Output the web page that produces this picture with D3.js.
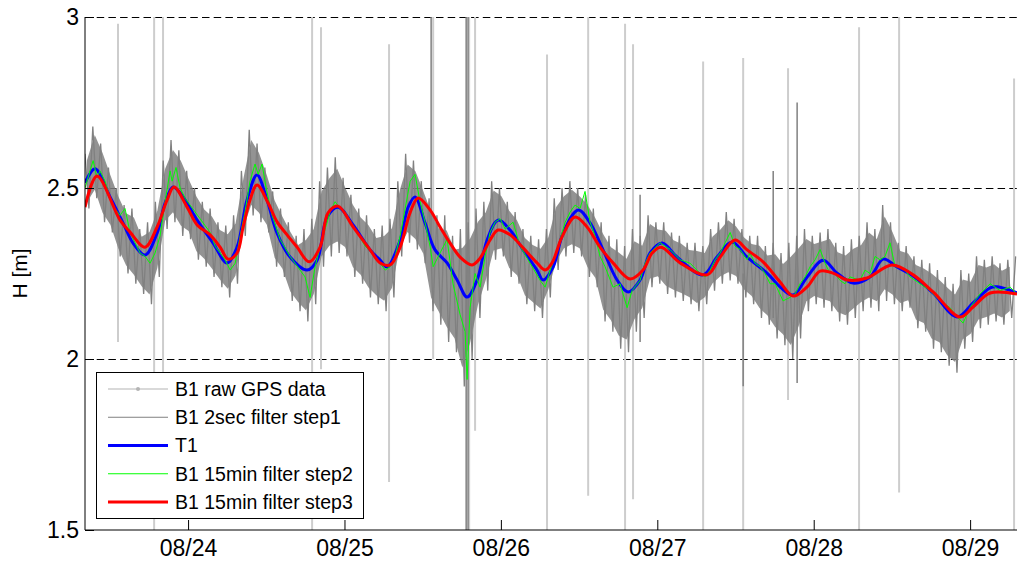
<!DOCTYPE html>
<html><head><meta charset="utf-8">
<script src="https://cdn.jsdelivr.net/npm/d3@7"></script>
<style>body{margin:0;background:#fff}svg{display:block}</style>
</head><body><svg id="c" width="1017" height="567"></svg>
<script>
// ---------- data ----------
const xTicks = [24, 25, 26, 27, 28, 29];
const xTickLabels = ["08/24", "08/25", "08/26", "08/27", "08/28", "08/29"];
const yTicks = [1.5, 2, 2.5, 3];
const yTickLabels = ["1.5", "2", "2.5", "3"];
const seriesNames = ["B1 raw GPS data", "B1 2sec filter step1", "T1", "B1 15min filter step2", "B1 15min filter step3"];

// raw GPS outliers: [day, top, bottom]
const rawSpikes = [
  [23.552, 2.98, 2.05], [23.783, 3.02, 1.48], [23.840, 3.02, 1.90], [24.793, 3.02, 1.48],
  [24.850, 2.97, 1.97], [25.285, 2.92, 1.64], [25.567, 3.02, 2.00], [25.797, 3.02, 1.48],
  [25.835, 3.02, 1.79], [26.295, 2.89, 1.48], [26.558, 3.02, 1.60], [26.794, 2.98, 1.48],
  [26.845, 2.92, 1.59], [27.293, 2.87, 1.48], [27.549, 2.88, 1.48], [27.836, 2.85, 1.88],
  [28.290, 2.97, 1.48], [28.546, 3.02, 1.61], [29.281, 2.82, 1.48]
];
// 2 sec filter step1 outliers: [day, top, bottom]
const step1Spikes = [
  [25.554, 3.02, 2.30], [25.778, 3.02, 1.48], [25.790, 3.02, 1.48],
  [26.890, 2.48, 2.05], [27.549, 2.25, 1.92], [27.741, 2.55, 2.12], [27.894, 2.75, 1.93]
];
// 2 sec filter step1 samples, start day + step
const step1Start = 23.341;
const step1Step = 0.025;
const step1Values = [
  2.60,2.44,2.68,2.47, 2.63,2.40,2.56,2.37, 2.50,2.30,2.45,2.25, 2.44,2.22,2.38,2.19,
  2.40,2.16,2.46,2.24, 2.58,2.38,2.64,2.40, 2.61,2.36,2.55,2.35, 2.50,2.29,2.46,2.27,
  2.44,2.24,2.40,2.21, 2.39,2.18,2.42,2.22, 2.55,2.36,2.67,2.42, 2.63,2.40,2.56,2.37,
  2.49,2.27,2.44,2.24, 2.40,2.17,2.36,2.14, 2.38,2.11,2.41,2.16, 2.52,2.27,2.56,2.30,
  2.59,2.31,2.53,2.30, 2.48,2.24,2.44,2.22, 2.42,2.18,2.38,2.16, 2.39,2.14,2.41,2.18,
  2.52,2.30,2.60,2.34, 2.58,2.32,2.52,2.28, 2.47,2.14,2.42,2.10, 2.42,2.05,2.36,2.02,
  2.38,1.92,2.40,2.00, 2.44,2.12,2.46,2.20, 2.52,2.29,2.50,2.30, 2.46,2.24,2.43,2.22,
  2.38,2.16,2.36,2.14, 2.35,2.12,2.38,2.18, 2.47,2.26,2.50,2.30, 2.52,2.31,2.50,2.30,
  2.48,2.24,2.44,2.21, 2.40,2.11,2.36,2.08, 2.35,2.03,2.33,2.02, 2.38,2.08,2.36,2.12,
  2.42,2.21,2.40,2.22, 2.40,2.19,2.37,2.18, 2.36,2.17,2.34,2.16, 2.34,2.14,2.33,2.16,
  2.38,2.20,2.40,2.22, 2.43,2.23,2.41,2.22, 2.38,2.18,2.36,2.16, 2.36,2.12,2.33,2.10,
  2.34,2.06,2.31,2.04, 2.34,2.00,2.36,2.06, 2.38,2.14,2.36,2.16, 2.37,2.15,2.38,2.14,
  2.34,2.11,2.33,2.10, 2.35,2.12,2.36,2.14, 2.40,2.15,2.38,2.14, 2.45,2.17,2.40,2.16,
  2.34,2.14,2.33,2.15, 2.30,2.09,2.29,2.08, 2.28,2.03,2.26,2.02, 2.24,1.98,2.22,1.96,
  2.26,2.03,2.25,2.05, 2.30,2.09,2.29,2.10, 2.30,2.11,2.28,2.10, 2.29,2.12,2.30
];
// T1: [day, H]
const t1Data = [
  [23.341,2.515],[23.405,2.556],[23.501,2.474],[23.584,2.398],[23.648,2.339],[23.725,2.304],
  [23.802,2.368],[23.853,2.456],[23.904,2.503],[23.968,2.474],[24.058,2.406],[24.160,2.339],
  [24.249,2.281],[24.313,2.327],[24.377,2.465],[24.441,2.538],[24.505,2.465],[24.569,2.368],
  [24.652,2.298],[24.761,2.260],[24.825,2.289],[24.889,2.415],[24.959,2.444],[25.055,2.392],
  [25.164,2.319],[25.228,2.289],[25.272,2.269],[25.356,2.348],[25.407,2.444],[25.451,2.474],
  [25.515,2.398],[25.579,2.319],[25.656,2.281],[25.720,2.231],[25.784,2.181],[25.848,2.231],
  [25.912,2.348],[25.982,2.406],[26.059,2.377],[26.142,2.319],[26.231,2.260],[26.270,2.231],
  [26.334,2.269],[26.398,2.368],[26.494,2.436],[26.570,2.398],[26.653,2.319],[26.743,2.231],
  [26.813,2.196],[26.890,2.231],[26.954,2.310],[27.031,2.339],[27.127,2.298],[27.293,2.246],
  [27.382,2.298],[27.478,2.342],[27.574,2.298],[27.702,2.251],[27.785,2.211],[27.868,2.187],
  [27.958,2.240],[28.060,2.289],[28.150,2.251],[28.252,2.222],[28.361,2.240],[28.444,2.292],
  [28.533,2.269],[28.636,2.243],[28.763,2.193],[28.917,2.123],[29.019,2.164],[29.128,2.208],
  [29.173,2.211],[29.300,2.193]
];
// 15 min filter step2: [day, H]
const step2Data = [
  [23.341,2.50],[23.373,2.55],[23.393,2.58],[23.418,2.53],[23.437,2.55],[23.469,2.52],[23.501,2.47],
  [23.533,2.44],[23.565,2.42],[23.597,2.44],[23.629,2.37],[23.661,2.34],[23.693,2.31],[23.725,2.30],
  [23.757,2.28],[23.789,2.31],[23.821,2.36],[23.853,2.46],[23.885,2.55],[23.898,2.52],[23.923,2.56],
  [23.949,2.50],[23.981,2.47],[24.013,2.45],[24.045,2.43],[24.077,2.41],[24.109,2.39],[24.141,2.37],
  [24.173,2.33],[24.205,2.31],[24.237,2.29],[24.269,2.26],[24.301,2.28],[24.333,2.36],[24.364,2.43],
  [24.396,2.52],[24.428,2.57],[24.448,2.54],[24.473,2.57],[24.499,2.50],[24.537,2.42],[24.588,2.35],
  [24.652,2.30],[24.716,2.26],[24.748,2.24],[24.780,2.18],[24.812,2.27],[24.857,2.35],[24.908,2.43],
  [24.940,2.46],[24.972,2.44],[25.004,2.43],[25.068,2.38],[25.132,2.33],[25.196,2.30],[25.228,2.28],
  [25.260,2.26],[25.292,2.27],[25.324,2.30],[25.356,2.36],[25.388,2.44],[25.420,2.52],[25.451,2.54],
  [25.483,2.46],[25.515,2.40],[25.547,2.33],[25.567,2.27],[25.611,2.31],[25.656,2.35],[25.694,2.22],
  [25.739,2.13],[25.771,2.08],[25.784,1.94],[25.803,2.15],[25.835,2.25],[25.867,2.21],[25.899,2.30],
  [25.931,2.37],[25.963,2.40],[25.995,2.41],[26.027,2.38],[26.078,2.40],[26.123,2.33],[26.187,2.28],
  [26.251,2.23],[26.283,2.21],[26.315,2.26],[26.347,2.30],[26.379,2.35],[26.411,2.40],[26.443,2.43],
  [26.474,2.45],[26.506,2.44],[26.538,2.49],[26.570,2.40],[26.602,2.36],[26.634,2.30],[26.666,2.27],
  [26.717,2.21],[26.762,2.22],[26.807,2.15],[26.839,2.20],[26.890,2.23],[26.922,2.28],[26.954,2.31],
  [27.018,2.34],[27.082,2.32],[27.146,2.29],[27.210,2.28],[27.274,2.25],[27.306,2.24],[27.338,2.26],
  [27.370,2.29],[27.402,2.31],[27.434,2.34],[27.466,2.37],[27.497,2.33],[27.529,2.32],[27.574,2.29],
  [27.593,2.31],[27.625,2.28],[27.657,2.27],[27.689,2.25],[27.721,2.22],[27.753,2.22],[27.804,2.17],
  [27.849,2.18],[27.881,2.19],[27.913,2.22],[27.945,2.24],[27.977,2.27],[28.009,2.29],[28.041,2.32],
  [28.073,2.28],[28.104,2.25],[28.136,2.25],[28.168,2.23],[28.200,2.22],[28.232,2.24],[28.296,2.23],
  [28.328,2.26],[28.360,2.25],[28.392,2.30],[28.424,2.29],[28.456,2.30],[28.488,2.34],[28.520,2.27],
  [28.552,2.27],[28.584,2.26],[28.616,2.24],[28.680,2.22],[28.744,2.20],[28.808,2.17],[28.872,2.15],
  [28.904,2.13],[28.955,2.105],[28.999,2.15],[29.063,2.19],[29.128,2.22],[29.192,2.20],[29.256,2.21],
  [29.300,2.19]
];
// 15 min filter step3: [day, H]
const step3Data = [
  [23.341,2.444],[23.418,2.535],[23.565,2.406],[23.629,2.371],[23.725,2.327],[23.802,2.386],
  [23.866,2.465],[23.910,2.503],[23.994,2.444],[24.058,2.392],[24.141,2.363],[24.205,2.327],
  [24.256,2.292],[24.313,2.310],[24.352,2.386],[24.396,2.465],[24.441,2.509],[24.512,2.456],
  [24.569,2.401],[24.633,2.363],[24.697,2.327],[24.774,2.284],[24.844,2.327],[24.895,2.427],
  [24.959,2.447],[25.055,2.386],[25.164,2.319],[25.228,2.281],[25.292,2.275],[25.356,2.327],
  [25.419,2.427],[25.471,2.471],[25.547,2.436],[25.611,2.386],[25.675,2.339],[25.739,2.298],
  [25.816,2.275],[25.867,2.295],[25.931,2.348],[25.982,2.377],[26.059,2.363],[26.142,2.325],
  [26.231,2.281],[26.283,2.260],[26.327,2.281],[26.391,2.357],[26.474,2.415],[26.551,2.386],
  [26.634,2.327],[26.717,2.281],[26.826,2.234],[26.909,2.260],[26.967,2.310],[27.024,2.327],
  [27.146,2.281],[27.318,2.246],[27.402,2.298],[27.497,2.348],[27.574,2.319],[27.676,2.284],
  [27.785,2.225],[27.868,2.184],[27.958,2.211],[28.041,2.257],[28.124,2.251],[28.214,2.231],
  [28.341,2.237],[28.501,2.275],[28.636,2.246],[28.763,2.196],[28.936,2.123],[29.019,2.152],
  [29.128,2.193],[29.300,2.190]
];

// ---------- layout ----------
const W = 1017, H = 567;
const L = 85, T = 17, B = 530;
const x = d3.scaleLinear().domain([23.341, 29.31]).range([L, 1018.6]);
const y = d3.scaleLinear().domain([1.5, 3]).range([B, T]);
const svg = d3.select("#c");
const font = "Liberation Sans, Arial, Helvetica, sans-serif";

svg.append("defs").append("clipPath").attr("id", "clip")
  .append("rect").attr("x", L).attr("y", T).attr("width", W - L + 5).attr("height", B - T);

// grid
svg.append("g").selectAll("line").data(yTicks.filter(v => v > 1.5)).join("line")
  .attr("x1", L).attr("x2", W + 5)
  .attr("y1", d => Math.round(y(d)) + 0.5).attr("y2", d => Math.round(y(d)) + 0.5)
  .attr("stroke", "#000").attr("stroke-width", 1).attr("stroke-dasharray", "7.5,4.2");

const plot = svg.append("g").attr("clip-path", "url(#clip)");

// raw GPS spikes
plot.append("g").selectAll("line").data(rawSpikes).join("line")
  .attr("x1", d => x(d[0])).attr("x2", d => x(d[0]))
  .attr("y1", d => y(d[1])).attr("y2", d => y(d[2]))
  .attr("stroke", "#cdcdcd").attr("stroke-width", 2);

// step1 noisy line (dense band: fill between successive high/low samples + the line itself)
const step1Data = step1Values.map((v, i) => [step1Start + i * step1Step, v]);
const step1Pairs = d3.range(0, step1Values.length - 1, 2).map(i => ({
  t: step1Start + (i + 0.5) * step1Step, hi: step1Values[i], lo: step1Values[i + 1]
}));
plot.append("path").datum(step1Pairs)
  .attr("d", d3.area().x(d => x(d.t)).y0(d => y(d.lo + (d.hi - d.lo) * 0.12)).y1(d => y(d.hi - (d.hi - d.lo) * 0.12)))
  .attr("fill", "#808080").attr("fill-opacity", 0.85);
const line = d3.line().x(d => x(d[0])).y(d => y(d[1]));
plot.append("path").datum(step1Data).attr("d", line)
  .attr("fill", "none").attr("stroke", "#808080").attr("stroke-width", 1.3);
plot.append("g").selectAll("line").data(step1Spikes).join("line")
  .attr("x1", d => x(d[0])).attr("x2", d => x(d[0]))
  .attr("y1", d => y(d[1])).attr("y2", d => y(d[2]))
  .attr("stroke", "#808080").attr("stroke-width", 1.5);

// T1
const smooth = d3.line().x(d => x(d[0])).y(d => y(d[1])).curve(d3.curveCatmullRom.alpha(0.5));
plot.append("path").datum(t1Data).attr("d", smooth)
  .attr("fill", "none").attr("stroke", "#0000ff").attr("stroke-width", 3);
// step2
plot.append("path").datum(step2Data).attr("d", line)
  .attr("fill", "none").attr("stroke", "#00ff00").attr("stroke-width", 1);
// step3
plot.append("path").datum(step3Data).attr("d", smooth)
  .attr("fill", "none").attr("stroke", "#ff0000").attr("stroke-width", 3);

// axes
const xAxis = d3.axisBottom(x).tickValues(xTicks).tickFormat((d, i) => xTickLabels[i])
  .tickSizeInner(-10).tickSizeOuter(0).tickPadding(10);
const gx = svg.append("g").attr("transform", `translate(0,${B})`).call(xAxis);
gx.select(".domain").remove();
gx.append("line").attr("x1", L).attr("x2", W + 5).attr("stroke", "#000");
gx.selectAll("text").attr("font-size", 23).attr("font-family", font).attr("fill", "#000");

const yAxis = d3.axisLeft(y).tickValues(yTicks).tickFormat((d, i) => yTickLabels[i])
  .tickSizeInner(-9).tickSizeOuter(0).tickPadding(6);
const gy = svg.append("g").attr("transform", `translate(${L},0)`).call(yAxis);
gy.select(".domain").remove();
gy.append("line").attr("y1", T).attr("y2", B).attr("stroke", "#000");
gy.selectAll("text").attr("font-size", 23).attr("font-family", font).attr("fill", "#000");

svg.append("text").attr("transform", `translate(27,${(T + B) / 2}) rotate(-90)`)
  .attr("text-anchor", "middle").attr("font-size", 21).attr("font-family", font).text("H [m]");

// legend
const lg = svg.append("g");
lg.append("rect").attr("x", 96.5).attr("y", 372.5).attr("width", 267).attr("height", 146)
  .attr("fill", "#fff").attr("stroke", "#000").attr("stroke-width", 1);
const legStyles = [
  {c: "#cdcdcd", w: 1.5, dot: true}, {c: "#808080", w: 1}, {c: "#0000ff", w: 3},
  {c: "#00ff00", w: 1}, {c: "#ff0000", w: 3}
];
const rowY = d3.scaleLinear().domain([0, 4]).range([389, 502]);
seriesNames.forEach((name, i) => {
  const yy = rowY(i);
  lg.append("line").attr("x1", 108).attr("x2", 168).attr("y1", yy).attr("y2", yy)
    .attr("stroke", legStyles[i].c).attr("stroke-width", legStyles[i].w);
  if (legStyles[i].dot) lg.append("circle").attr("cx", 138).attr("cy", yy).attr("r", 2).attr("fill", "#b4b4b4");
  lg.append("text").attr("x", 175).attr("y", yy).attr("dy", "0.35em")
    .attr("font-size", 19.5).attr("font-family", font).text(name);
});
</script></body></html>
